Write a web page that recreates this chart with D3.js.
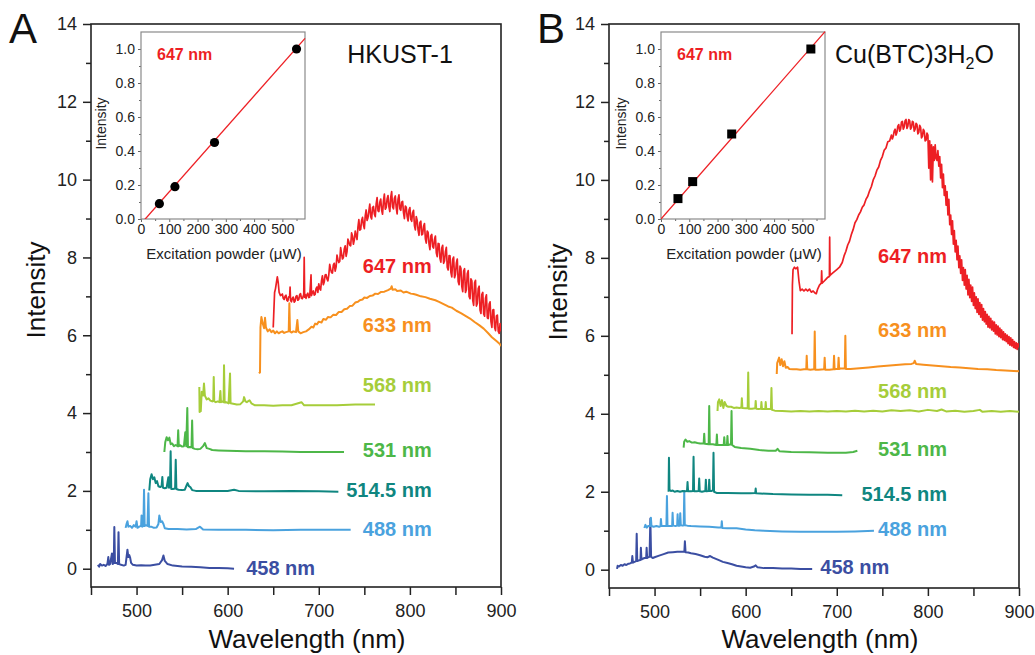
<!DOCTYPE html>
<html>
<head>
<meta charset="utf-8">
<script src="https://cdn.jsdelivr.net/npm/d3@7"></script>
<style>
  body { margin: 0; background: #fff; }
  svg { display: block; font-family: "Liberation Sans", Arial, sans-serif; }
</style>
</head>
<body>
<svg id="chart" width="1035" height="655"></svg>
<script>
// ---- data: [wavelength nm, intensity] ----
const A_458 = [[457.5,0.1],[459,0.05],[460,0.12],[462,0.08],[464,0.1],[466,0.07],[468,0.12],[469,0.3],[469.8,0.1],[471,0.12],[473,0.39],[473.8,0.12],[475,0.15],[475.6,1.07],[476.3,0.15],[478,0.15],[479.5,0.12],[480.2,0.94],[480.9,0.12],[483,0.1],[486,0.08],[488,0.1],[490,0.49],[491,0.3],[492,0.35],[493,0.28],[494,0.15],[496,0.1],[500,0.08],[505,0.09],[510,0.08],[515,0.08],[520,0.1],[525,0.12],[528,0.22],[529.5,0.34],[531,0.2],[534,0.12],[540,0.08],[550,0.06],[560,0.05],[570,0.04],[580,0.02],[590,0.02],[600,0.01],[607,0.0]];
const A_488 = [[488,1.05],[489,1.15],[490,1.22],[491,1.08],[493,1.1],[495,1.05],[497,1.12],[499,1.08],[500,1.22],[501,1.05],[503,1.08],[505,1.1],[505.5,1.37],[506.2,1.08],[507.5,1.1],[508.2,2.03],[508.9,1.1],[510,1.12],[512,1.1],[513,1.94],[513.7,1.08],[516,1.08],[519,1.05],[522,1.06],[524,1.15],[525,1.37],[526.5,1.2],[528,1.22],[529.5,1.15],[531,1.04],[535,1.02],[545,1.02],[555,1.01],[565,1.02],[569.6,1.08],[573,1.01],[590,1.0],[620,1.0],[650,0.99],[680,1.0],[710,1.0],[735,1.0]];
const A_514 = [[514,2.01],[515,2.3],[516.5,2.43],[518,2.3],[519.5,2.35],[521,2.2],[522.5,2.25],[524,2.12],[526,2.1],[527.5,2.12],[528.3,2.36],[529,2.08],[531,2.07],[533,2.08],[534.9,2.35],[535.6,2.08],[536.7,2.1],[537.4,3.02],[538.1,2.05],[540,2.05],[542.3,2.06],[543,2.8],[543.7,2.05],[546,2.03],[550,2.02],[553,2.03],[555,2.15],[556,2.2],[557.5,2.12],[559,2.1],[561,2.02],[565,2.0],[580,2.0],[600,2.0],[607,2.03],[612,2.0],[640,1.99],[670,2.0],[700,1.99],[721.5,1.98]];
const A_531 = [[530.5,3.0],[531.5,3.25],[533,3.38],[534.5,3.3],[536,3.37],[537.5,3.2],[539,3.22],[541,3.15],[543,3.18],[545,3.15],[545.7,3.56],[546.4,3.15],[548,3.17],[550,3.14],[552,3.15],[553.5,3.51],[554.5,3.15],[555.7,4.13],[556.4,3.12],[558,3.13],[560.3,3.12],[561,3.81],[561.7,3.1],[564,3.08],[567,3.07],[570,3.08],[573,3.15],[575,3.23],[577,3.1],[580,3.08],[583,3.05],[590,3.04],[600,3.03],[620,3.02],[640,3.02],[660,3.01],[680,3.0],[700,3.0],[715,3.0],[727.7,3.0]];
const A_568 = [[568.9,4.67],[569.2,4.03],[570.5,4.05],[571.5,4.55],[573,4.45],[574,4.76],[575,4.45],[577,4.35],[579,4.38],[581,4.32],[583,4.3],[584.2,4.32],[584.7,4.93],[585.3,4.3],[587,4.28],[589,4.3],[591,4.28],[592,4.57],[592.7,4.28],[594,4.3],[595.5,4.28],[596,5.23],[596.7,4.27],[598.5,4.28],[601,4.25],[602.6,5.02],[603.2,4.25],[606,4.24],[610,4.22],[614,4.23],[617,4.3],[618,4.41],[619.5,4.3],[621,4.28],[624,4.33],[626,4.25],[630,4.2],[640,4.2],[650,4.19],[660,4.2],[670,4.2],[681,4.28],[684,4.2],[700,4.2],[720,4.2],[740,4.22],[761.7,4.22]];
const A_633 = [[634.4,5.02],[635.5,5.05],[636,6.2],[637,6.47],[638.5,6.3],[640,6.18],[641,6.45],[642,6.2],[644,6.1],[646,6.15],[648,6.08],[650,6.12],[652,6.05],[654,6.1],[656,6.05],[658,6.08],[660,6.1],[662,6.06],[664,6.08],[667,6.1],[667.7,6.82],[668.4,6.1],[670,6.07],[672,6.1],[675,6.08],[676.5,6.39],[677.5,6.1],[680,6.05],[683,6.08],[686,6.1],[689,6.15],[692,6.22],[694,6.2],[696,6.3],[698,6.28],[700,6.35],[703,6.33],[705,6.42],[708,6.4],[710,6.47],[713,6.46],[716,6.53],[719,6.52],[722,6.6],[725,6.6],[728,6.67],[731,6.68],[734,6.75],[737,6.76],[740,6.84],[743,6.86],[745,6.9],[748,6.92],[750,6.97],[753,6.96],[756,7.01],[759,7.02],[762,7.07],[765,7.06],[768,7.11],[772,7.12],[776,7.16],[779,7.2],[780,7.26],[781,7.17],[784,7.18],[786,7.14],[790,7.15],[793,7.1],[796,7.12],[801,7.07],[804,7.06],[807,7.04],[812,7.0],[817,6.98],[822,6.94],[828,6.9],[832,6.86],[837,6.8],[842,6.74],[846,6.71],[851,6.63],[856,6.57],[861,6.5],[866,6.43],[871,6.34],[876,6.26],[881,6.17],[886,6.05],[890,5.95],[895,5.85],[899,5.77],[900,5.72]];
const A_647 = [[650,6.2],[650.5,6.5],[651.5,7.1],[652.5,7.2],[653.5,7.35],[654.5,7.5],[655.5,7.35],[656.5,7.1],[658,7.02],[660,7.06],[661,6.95],[662,6.92],[663,7.0],[664,7.03],[665,6.9],[666,6.88],[667,6.99],[668,6.98],[668.5,7.24],[669,6.9],[670,6.86],[671,6.95],[672,6.98],[673,6.85],[674,6.88],[675,7.0],[676,7.02],[677,6.9],[678,6.92],[679,7.04],[680,7.07],[681,6.95],[682,6.94],[683.5,7.05],[684,8.0],[684.5,6.98],[685,7.05],[686,6.95],[687,7.04],[688,7.08],[689,6.97],[690,6.98],[691.5,7.55],[692,7.02],[693,7.1],[694,7.14],[695,7.03],[696,7.05],[697,7.2],[698,7.24],[699,7.1],[700,7.32],[701,7.2],[702,7.16],[703,7.4],[704,7.53],[705,7.3],[706,7.37],[707,7.55],[708,7.56],[709,7.45],[710,7.4],[711,7.55],[712,7.82],[713,7.7],[714,7.61],[715,7.6],[716,7.81],[717,7.85],[718,7.65],[719,7.75],[720,8.06],[721,7.95],[722,7.87],[723,7.9],[724,8.25],[725,8.1],[726,7.96],[727,8.0],[728,8.22],[729,8.3],[730,8.03],[731,8.15],[732,8.47],[733,8.4],[734,8.32],[735,8.3],[736,8.63],[737,8.55],[738,8.34],[739,8.45],[740,8.68],[741,8.55],[742,8.46],[743,8.78],[744,8.97],[745,8.7],[746,8.72],[747,8.95],[748,9.03],[749,8.84],[750,8.74],[751,9.07],[752,9.22],[753,8.95],[754,9.02],[755,9.2],[756,9.37],[757,9.05],[758,8.99],[759,9.28],[760,9.31],[761,9.12],[762,9.05],[763,9.38],[764,9.54],[765,9.2],[766,9.18],[767,9.42],[768,9.5],[769,9.22],[770,9.11],[771,9.45],[772,9.63],[773,9.24],[774,9.28],[775,9.5],[776,9.59],[777,9.3],[778,9.18],[779,9.55],[780,9.69],[781,9.3],[782,9.25],[783,9.52],[784,9.58],[785,9.28],[786,9.12],[787,9.5],[788,9.61],[789,9.25],[790,9.21],[791,9.42],[792,9.44],[793,9.15],[794,9.0],[795,9.32],[796,9.29],[797,9.05],[798,8.94],[799,9.22],[800,9.28],[801,8.98],[802,8.93],[803,9.15],[804,9.21],[805,8.82],[806,8.71],[807,9.05],[808,8.95],[809,8.7],[810,8.57],[811,8.9],[812,8.93],[813,8.58],[814,8.6],[815,8.8],[816,8.87],[817,8.48],[818,8.37],[819,8.68],[820,8.64],[821,8.35],[822,8.2],[823,8.55],[824,8.59],[825,8.28],[826,8.24],[827,8.46],[828,8.55],[829,8.12],[830,8.02],[831,8.36],[832,8.35],[833,7.98],[834,7.88],[835,8.24],[836,8.31],[837,7.85],[838,7.91],[839,8.15],[840,8.26],[841,7.75],[842,7.68],[843,8.05],[844,8.04],[845,7.62],[846,7.5],[847,7.95],[848,8.01],[849,7.48],[850,7.56],[851,7.85],[852,7.96],[853,7.38],[854,7.3],[855,7.78],[856,7.72],[857,7.25],[858,7.12],[859,7.65],[860,7.71],[861,7.1],[862,7.17],[863,7.58],[864,7.66],[865,7.0],[866,6.94],[867,7.45],[868,7.4],[869,6.9],[870,6.77],[871,7.35],[872,7.41],[873,6.75],[874,6.82],[875,7.2],[876,7.26],[877,6.65],[878,6.56],[879,7.05],[880,7.1],[881,6.55],[882,6.49],[883,6.95],[884,7.04],[885,6.45],[886,6.43],[887,6.8],[888,6.86],[889,6.35],[890,6.2],[891,6.65],[892,6.66],[893,6.2],[894,6.12],[895,6.5],[896,6.52],[897,6.1],[898,6.05],[899,6.3],[900,6.1]];

const B_458 = [[458.8,0.02],[459.5,0.1],[461,0.08],[463,0.12],[465,0.1],[467,0.14],[469,0.12],[471,0.15],[473,0.16],[475,0.18],[475.6,0.35],[476.3,0.18],[478,0.2],[479.8,0.22],[480.4,0.92],[481,0.22],[483,0.24],[484.5,0.25],[485,0.56],[485.6,0.26],[487,0.28],[489,0.3],[490.8,0.3],[491.3,0.56],[491.9,0.3],[493,0.32],[494.5,0.33],[495.4,1.31],[496.2,0.33],[498,0.3],[500,0.32],[505,0.36],[510,0.4],[515,0.44],[520,0.45],[525,0.46],[530,0.46],[532.7,0.46],[533.3,0.73],[534,0.45],[537,0.44],[540,0.42],[545,0.4],[550,0.37],[555,0.33],[558,0.32],[561,0.35],[564,0.31],[570,0.25],[575,0.2],[580,0.17],[585,0.14],[590,0.1],[595,0.08],[600,0.06],[605,0.05],[609,0.08],[611,0.11],[613,0.06],[620,0.04],[630,0.04],[640,0.03],[650,0.03],[660,0.02],[673,0.02]];
const B_488 = [[488.8,1.07],[490,1.15],[491.5,1.08],[493,1.12],[495.4,1.12],[496,1.33],[496.6,1.12],[499,1.1],[502,1.12],[505,1.1],[506.5,1.12],[507,1.3],[507.6,1.12],[510,1.12],[513,1.12],[513.6,1.89],[514.2,1.12],[517,1.12],[519.3,1.12],[519.8,1.46],[520.4,1.13],[523,1.12],[524.8,1.13],[525.3,1.42],[525.9,1.13],[527.6,1.13],[528.2,1.45],[528.8,1.14],[531,1.13],[532,1.14],[532.6,2.01],[533.2,1.14],[536,1.13],[540,1.12],[550,1.11],[560,1.1],[570,1.08],[573.3,1.08],[573.8,1.24],[574.4,1.07],[580,1.06],[590,1.06],[600,1.03],[610,1.01],[620,1.0],[640,0.98],[660,0.97],[680,0.97],[700,0.97],[720,0.98],[740.8,1.0]];
const B_514 = [[515.4,2.0],[515.8,2.87],[516.4,2.05],[518,2.02],[520,2.03],[522,2.0],[525,2.02],[528,2.0],[531,2.02],[534,2.01],[535.6,2.02],[536.2,2.25],[536.8,2.01],[540,2.01],[542.2,2.02],[542.8,2.9],[543.4,2.01],[546,2.01],[548.4,2.02],[549,2.34],[549.6,2.01],[552,2.0],[555.7,2.02],[556.3,2.31],[556.9,2.01],[559.4,2.02],[560,2.31],[560.6,2.02],[563,2.02],[564.1,2.05],[564.7,3.0],[565.3,2.0],[568,1.97],[580,1.97],[595,1.96],[605,1.96],[610.5,1.97],[611,2.08],[611.5,1.96],[630,1.94],[650,1.93],[670,1.92],[690,1.92],[706,1.91]];
const B_531 = [[531.9,3.13],[532.5,3.28],[534,3.34],[536,3.28],[538,3.3],[541,3.26],[544,3.27],[547,3.25],[550,3.24],[553.9,3.24],[554.5,3.49],[555.1,3.23],[559.4,3.22],[560,4.2],[560.6,3.22],[564,3.22],[567.8,3.2],[568.4,3.47],[569,3.2],[572,3.2],[575.9,3.2],[576.5,3.4],[577.1,3.2],[579.4,3.2],[580,3.43],[580.6,3.2],[583.9,3.22],[584.5,4.07],[585.1,3.2],[588,3.15],[595,3.12],[605,3.1],[615,3.07],[625,3.05],[633,3.05],[635,3.1],[637,3.04],[650,3.02],[670,3.01],[690,3.0],[710,3.0],[718,3.02],[722.6,3.05]];
const B_568 = [[569.1,4.07],[569.6,4.3],[571,4.37],[572.5,4.2],[574,4.35],[575.5,4.15],[577,4.3],[579,4.2],[581,4.18],[584,4.18],[587,4.15],[590,4.16],[593,4.15],[595.3,4.16],[595.8,4.4],[596.4,4.15],[600,4.14],[602.2,4.15],[602.8,5.06],[603.4,4.13],[607,4.13],[610.5,4.14],[611,4.33],[611.6,4.13],[614,4.12],[616.8,4.13],[617.3,4.3],[617.9,4.12],[621.5,4.12],[622,4.3],[622.6,4.12],[625,4.12],[627.7,4.13],[628.3,4.66],[628.9,4.1],[632,4.08],[640,4.07],[650,4.06],[660,4.07],[670,4.06],[680,4.07],[690,4.06],[700,4.07],[710,4.06],[720,4.08],[730,4.06],[740,4.08],[750,4.06],[760,4.09],[770,4.07],[780,4.09],[790,4.06],[800,4.1],[810,4.07],[815,4.11],[820,4.06],[830,4.08],[840,4.05],[850,4.07],[857,4.1],[860,4.05],[870,4.07],[880,4.05],[890,4.07],[900,4.05]];
const B_633 = [[634.1,5.02],[634.6,5.3],[636.7,5.44],[638,5.25],[639.5,5.4],[641,5.22],[642.5,5.35],[644,5.18],[646,5.2],[648,5.15],[652,5.14],[656,5.14],[660,5.13],[664,5.14],[666.5,5.14],[667,5.49],[667.6,5.14],[671,5.13],[675.2,5.14],[675.8,6.11],[676.4,5.13],[680,5.13],[686.1,5.14],[686.7,5.44],[687.3,5.13],[692,5.13],[696.4,5.14],[697,5.49],[697.6,5.14],[699,5.15],[701.4,5.15],[702,5.44],[702.6,5.15],[704,5.16],[708.8,5.16],[709.4,6.0],[710,5.15],[715,5.15],[725,5.17],[735,5.19],[745,5.21],[755,5.23],[765,5.25],[775,5.27],[782,5.28],[784.5,5.3],[785.5,5.36],[787,5.28],[795,5.26],[805,5.24],[815,5.22],[825,5.2],[835,5.19],[845,5.17],[855,5.15],[865,5.14],[875,5.12],[885,5.11],[900,5.09]];
const B_647 = [[650.9,6.04],[651.3,7.3],[652,7.7],[653.5,7.76],[655,7.72],[657,7.76],[658.5,7.4],[660,7.16],[662,7.2],[664,7.15],[666,7.2],[668,7.15],[670,7.2],[672,7.12],[674,7.15],[676,7.1],[677.5,7.08],[679,7.2],[681,7.3],[683,7.35],[683.4,7.67],[683.9,7.35],[686,7.4],[688,7.45],[690,7.5],[691.9,7.52],[692.2,8.53],[692.6,7.55],[695,7.6],[698,7.66],[700,7.7],[703,7.76],[706,7.88],[708,8.05],[710,8.17],[712,8.33],[714,8.43],[716,8.6],[718,8.73],[720,8.9],[722,8.98],[724,9.1],[726,9.18],[728,9.3],[730,9.36],[732,9.5],[734,9.58],[736,9.72],[738,9.83],[740,10.0],[742,10.1],[744,10.25],[746,10.33],[748,10.5],[750,10.6],[752,10.76],[754,10.82],[756,10.98],[758,11.0],[760,11.15],[761,11.05],[762,11.12],[763,11.25],[764,11.3],[765,11.15],[766,11.22],[767,11.38],[768,11.42],[769,11.25],[770,11.3],[771,11.48],[772,11.5],[773,11.3],[774,11.36],[775,11.52],[776,11.55],[777,11.32],[778,11.38],[779,11.55],[780,11.52],[781,11.3],[782,11.35],[783,11.5],[784,11.48],[785,11.25],[786,11.3],[787,11.45],[788,11.42],[789,11.18],[790,11.22],[791,11.4],[792,11.35],[793,11.08],[794,11.12],[795,11.3],[796,11.25],[797,11.0],[798,11.02],[799,11.2],[800,11.15],[801,10.3],[802,11.0],[803,10.0],[804,10.9],[805,9.95],[806,10.85],[807,10.5],[808,10.9],[809,10.55],[810,10.5],[811,10.75],[812,10.35],[813,10.6],[814,10.05],[815,10.4],[816,9.8],[817,10.15],[818,9.6],[819,9.85],[820,9.35],[821,9.7],[822,9.1],[823,9.5],[824,8.85],[825,9.1],[826,8.6],[827,8.95],[828,8.35],[829,8.7],[830,8.15],[831,8.45],[832,7.95],[833,8.3],[834,7.75],[835,8.05],[836,7.6],[837,7.95],[838,7.42],[839,7.75],[840,7.3],[841,7.7],[842,7.2],[843,7.55],[844,7.05],[845,7.45],[846,6.98],[847,7.3],[848,6.88],[849,7.25],[850,6.78],[851,7.1],[852,6.7],[853,7.0],[854,6.6],[855,6.95],[856,6.55],[857,6.85],[858,6.48],[859,6.8],[860,6.4],[861,6.7],[862,6.36],[863,6.62],[864,6.3],[865,6.55],[866,6.22],[867,6.5],[868,6.2],[869,6.45],[870,6.15],[871,6.38],[872,6.12],[873,6.35],[874,6.05],[875,6.28],[876,6.02],[877,6.25],[878,5.98],[879,6.2],[880,5.95],[881,6.15],[882,5.9],[883,6.1],[884,5.88],[885,6.05],[886,5.85],[887,6.02],[888,5.8],[889,5.98],[890,5.76],[891,5.95],[892,5.74],[893,5.9],[894,5.7],[895,5.85],[896,5.68],[897,5.82],[898,5.65],[899,5.8],[900,5.7]];

// inset: excitation power (uW) vs normalised intensity
const insetA_power = [65, 120, 260, 550];
const insetA_int = [0.09, 0.19, 0.45, 1.0];
const insetA_fit = [-0.028, 0.00188];   // intercept, slope
const insetB_power = [60, 112, 250, 530];
const insetB_int = [0.12, 0.22, 0.5, 1.0];
const insetB_fit = [0.0, 0.0019];

const seriesNames = ["458 nm", "488 nm", "514.5 nm", "531 nm", "568 nm", "633 nm", "647 nm"];
const seriesColors = ["#3b4ea2", "#4aa2de", "#0f8680", "#4db748", "#a6cd3a", "#f7901e", "#ed1f24"];
const yMajorTicks = [0, 2, 4, 6, 8, 10, 12, 14];
const xMajorTicks = [500, 600, 700, 800, 900];

const svg = d3.select("#chart");
const font = '"Liberation Sans", Arial, sans-serif';

const panels = [
  {
    letter: "A", letterX: 9, title: "HKUST-1",
    left: 91, right: 501, top: 24, bottom: 587,
    series: [A_458, A_488, A_514, A_531, A_568, A_633, A_647],
    // label anchor (right edge, baseline) in data units
    labels: [[696, -0.15], [824, 0.83], [824, 1.84], [824, 2.86], [824, 4.54], [824, 6.08], [824, 7.6]],
    titleX: 400, titleAnchor: "middle",
    inset: { left: 141, right: 305, top: 32, bottom: 219, power: insetA_power, inten: insetA_int, fit: insetA_fit, marker: "circle" },
    yTitleX: 45, yTitleY: 290, xTitleX: 307
  },
  {
    letter: "B", letterX: 537, title: "Cu(BTC)3H2O",
    left: 609, right: 1019, top: 24, bottom: 588,
    series: [B_458, B_488, B_514, B_531, B_568, B_633, B_647],
    labels: [[757.6, -0.1], [821, 0.86], [821, 1.76], [821, 2.92], [821, 4.41], [821, 5.97], [821, 7.86]],
    titleX: 835, titleAnchor: "start",
    inset: { left: 661, right: 825, top: 32, bottom: 219, power: insetB_power, inten: insetB_int, fit: insetB_fit, marker: "square" },
    yTitleX: 567, yTitleY: 292, xTitleX: 820
  }
];

panels.forEach((p, pi) => {
  const g = svg.append("g");
  const x = d3.scaleLinear().domain([450, 900]).range([p.left, p.right]);
  const y = d3.scaleLinear().domain([-0.47, 14]).range([p.bottom, p.top]);

  // clip for spectra
  g.append("clipPath").attr("id", "clip" + pi)
    .append("rect").attr("x", p.left).attr("y", p.top)
    .attr("width", p.right - p.left).attr("height", p.bottom - p.top);

  // axes
  const yMinor = [1, 3, 5, 7, 9, 11, 13];
  const xMinor = [450, 550, 650, 750, 850];

  g.append("g").attr("transform", `translate(${p.left},0)`)
    .call(d3.axisLeft(y).tickValues(yMajorTicks).tickSize(8).tickPadding(6).tickFormat(d3.format("d")));
  g.append("g").attr("transform", `translate(${p.left},0)`)
    .call(d3.axisLeft(y).tickValues(yMinor).tickSize(5).tickFormat(""));
  g.append("g").attr("transform", `translate(0,${p.bottom})`)
    .call(d3.axisBottom(x).tickValues(xMajorTicks).tickSize(8).tickPadding(9).tickFormat(d3.format("d")));
  g.append("g").attr("transform", `translate(0,${p.bottom})`)
    .call(d3.axisBottom(x).tickValues(xMinor).tickSize(8).tickFormat(""));

  g.selectAll(".domain").remove();
  g.selectAll(".tick line").attr("stroke", "#222").attr("stroke-width", 1.5);
  g.selectAll(".tick text").attr("font-family", font).attr("font-size", 18).attr("fill", "#222");

  // frame
  g.append("rect").attr("x", p.left).attr("y", p.top)
    .attr("width", p.right - p.left).attr("height", p.bottom - p.top)
    .attr("fill", "none").attr("stroke", "#222").attr("stroke-width", 1.6);

  // spectra
  const line = d3.line().x(d => x(d[0])).y(d => y(d[1]));
  const sg = g.append("g").attr("clip-path", `url(#clip${pi})`);
  p.series.forEach((s, i) => {
    sg.append("path").datum(s)
      .attr("d", line)
      .attr("fill", "none")
      .attr("stroke", seriesColors[i])
      .attr("stroke-width", i === 6 ? 1.7 : 2)
      .attr("stroke-linejoin", "round");
  });

  // series labels
  p.labels.forEach((l, i) => {
    g.append("text")
      .attr("x", x(l[0])).attr("y", y(l[1]))
      .attr("text-anchor", "end")
      .attr("font-family", font).attr("font-size", 20).attr("font-weight", "bold")
      .attr("fill", seriesColors[i])
      .text(seriesNames[i]);
  });

  // panel letter
  g.append("text").attr("x", p.letterX).attr("y", 43)
    .attr("font-family", font).attr("font-size", 42).attr("fill", "#111")
    .text(p.letter);

  // sample name
  const t = g.append("text").attr("x", p.titleX).attr("y", 63)
    .attr("text-anchor", p.titleAnchor)
    .attr("font-family", font).attr("font-size", 25).attr("fill", "#111");
  if (p.title === "Cu(BTC)3H2O") {
    t.append("tspan").text("Cu(BTC)3H");
    t.append("tspan").attr("font-size", 16).attr("dy", 6).text("2");
    t.append("tspan").attr("dy", -6).text("O");
  } else {
    t.text(p.title);
  }

  // axis titles
  g.append("text")
    .attr("transform", `translate(${p.yTitleX},${p.yTitleY}) rotate(-90)`)
    .attr("text-anchor", "middle")
    .attr("font-family", font).attr("font-size", 26).attr("fill", "#111")
    .text("Intensity");
  g.append("text").attr("x", p.xTitleX).attr("y", 648)
    .attr("text-anchor", "middle")
    .attr("font-family", font).attr("font-size", 26).attr("fill", "#111")
    .text("Wavelength (nm)");

  // ---- inset ----
  const ins = p.inset;
  const ix = d3.scaleLinear().domain([0, 580]).range([ins.left, ins.right]);
  const iy = d3.scaleLinear().domain([0, 1.1]).range([ins.bottom, ins.top]);
  const ig = g.append("g");

  ig.append("clipPath").attr("id", "iclip" + pi)
    .append("rect").attr("x", ins.left).attr("y", ins.top - 1)
    .attr("width", ins.right - ins.left + 1).attr("height", ins.bottom - ins.top + 1);

  ig.append("g").attr("transform", `translate(${ins.left},0)`)
    .call(d3.axisLeft(iy).tickValues([0, 0.2, 0.4, 0.6, 0.8, 1.0]).tickSize(3).tickPadding(3).tickFormat(d3.format(".1f")));
  ig.append("g").attr("transform", `translate(${ins.left},0)`)
    .call(d3.axisLeft(iy).tickValues([0.1, 0.3, 0.5, 0.7, 0.9]).tickSize(2).tickFormat(""));
  ig.append("g").attr("transform", `translate(0,${ins.bottom})`)
    .call(d3.axisBottom(ix).tickValues([0, 100, 200, 300, 400, 500]).tickSize(3).tickPadding(2).tickFormat(d3.format("d")));
  ig.append("g").attr("transform", `translate(0,${ins.bottom})`)
    .call(d3.axisBottom(ix).tickValues([50, 150, 250, 350, 450, 550]).tickSize(2).tickFormat(""));
  ig.selectAll(".domain").remove();
  ig.selectAll(".tick line").attr("stroke", "#666");
  ig.selectAll(".tick text").attr("font-family", font).attr("font-size", 14).attr("fill", "#222");

  ig.append("rect").attr("x", ins.left).attr("y", ins.top)
    .attr("width", ins.right - ins.left).attr("height", ins.bottom - ins.top)
    .attr("fill", "none").attr("stroke", "#8a8a8a").attr("stroke-width", 1.2);

  // fit line
  const fx = [0, 580];
  ig.append("line").attr("clip-path", `url(#iclip${pi})`)
    .attr("x1", ix(fx[0])).attr("y1", iy(ins.fit[0] + ins.fit[1] * fx[0]))
    .attr("x2", ix(fx[1])).attr("y2", iy(ins.fit[0] + ins.fit[1] * fx[1]))
    .attr("stroke", "#ed1f24").attr("stroke-width", 1.3);

  const pts = ins.power.map((v, i) => [v, ins.inten[i]]);
  if (ins.marker === "circle") {
    ig.selectAll(".pt").data(pts).enter().append("circle")
      .attr("cx", d => ix(d[0])).attr("cy", d => iy(d[1])).attr("r", 4.6)
      .attr("fill", "#000");
  } else {
    ig.selectAll(".pt").data(pts).enter().append("rect")
      .attr("x", d => ix(d[0]) - 4.5).attr("y", d => iy(d[1]) - 4.5)
      .attr("width", 9).attr("height", 9).attr("fill", "#000");
  }

  ig.append("text").attr("x", ins.left + 16).attr("y", 60)
    .attr("font-family", font).attr("font-size", 16).attr("font-weight", "bold")
    .attr("fill", "#ed1f24").text("647 nm");
  ig.append("text")
    .attr("transform", `translate(${ins.left - 35},${(ins.top + ins.bottom) / 2 - 2}) rotate(-90)`)
    .attr("text-anchor", "middle")
    .attr("font-family", font).attr("font-size", 14).attr("fill", "#222")
    .text("Intensity");
  ig.append("text").attr("x", (ins.left + ins.right) / 2 + 1).attr("y", 259)
    .attr("text-anchor", "middle")
    .attr("font-family", font).attr("font-size", 15).attr("fill", "#222")
    .text("Excitation powder (\u03bcW)");
});
</script>
</body>
</html>
